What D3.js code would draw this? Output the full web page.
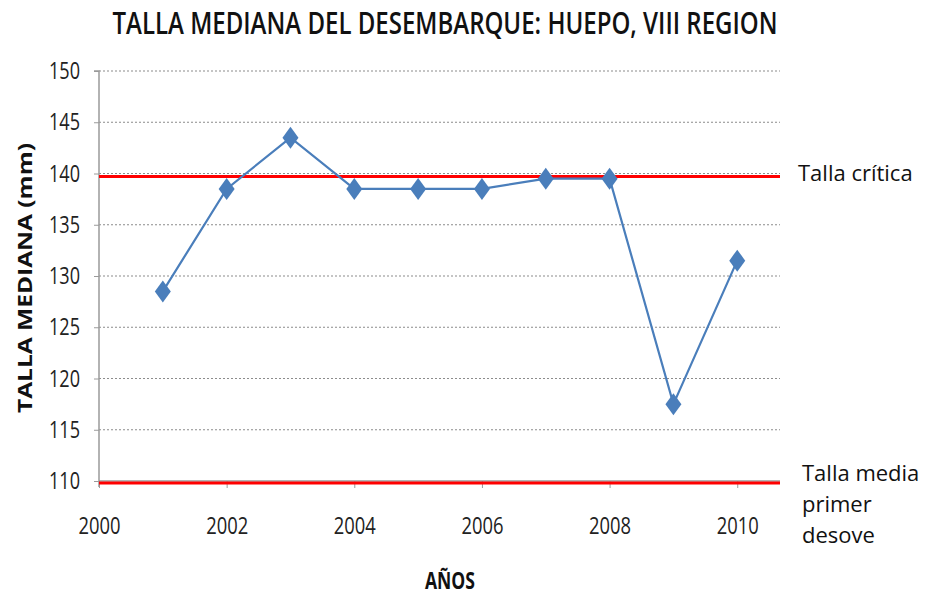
<!DOCTYPE html>
<html>
<head>
<meta charset="utf-8">
<script src="https://cdn.jsdelivr.net/npm/d3@7"></script>
<style>
  body { margin: 0; background: #fff; }
  svg { display: block; }
</style>
</head>
<body>
<svg width="925" height="596"></svg>
<script>
// data
var years = [2001, 2002, 2003, 2004, 2005, 2006, 2007, 2008, 2009, 2010];
var talla = [128.5, 138.5, 143.5, 138.5, 138.5, 138.5, 139.5, 139.5, 117.5, 131.5];
var yTicks = [110, 115, 120, 125, 130, 135, 140, 145, 150];
var xTicks = [2000, 2002, 2004, 2006, 2008, 2010];
var refValues = [139.7, 109.8];
var refLabels = [["Talla crítica"], ["Talla media", "primer", "desove"]];

var svg = d3.select('svg');
var pad = {l: 99, r: 780, t: 71, b: 481};

var x = d3.scaleLinear()
    .domain([2000, 2010.67])
    .range([pad.l, pad.r]);

var y = d3.scaleLinear()
    .domain([110, 150])
    .range([pad.b, pad.t]);

var font = '"Open Sans", sans-serif';

// gridlines
svg.append('g')
    .selectAll('line')
    .data(yTicks.filter(d => d > 110))
    .enter()
    .append('line')
    .attr('x1', pad.l)
    .attr('x2', pad.r)
    .attr('y1', d => y(d))
    .attr('y2', d => y(d))
    .attr('stroke', '#8c8c8c')
    .attr('stroke-width', 1.2)
    .attr('stroke-dasharray', '2,2');

// y axis
var yAxis = d3.axisLeft(y)
    .tickValues(yTicks)
    .tickSize(5)
    .tickPadding(14);

var gy = svg.append('g')
    .attr('transform', 'translate(' + pad.l + ',0)')
    .call(yAxis);
gy.select('.domain').attr('stroke', '#9a9a9a').attr('stroke-width', 1.5)
    .attr('d', 'M-5,' + pad.t + 'H0V' + (pad.b + 6));
gy.selectAll('.tick line').attr('stroke', '#9a9a9a');
gy.selectAll('.tick text')
    .attr('font-family', font)
    .attr('font-size', '24px')
    .attr('textLength', 31)
    .attr('lengthAdjust', 'spacingAndGlyphs')
    .attr('fill', '#222');

// x axis
var xAxis = d3.axisBottom(x)
    .tickValues(xTicks)
    .tickFormat(d3.format('d'))
    .tickSize(7)
    .tickPadding(29);

var gx = svg.append('g')
    .attr('transform', 'translate(0,' + pad.b + ')')
    .call(xAxis);
gx.select('.domain').attr('stroke', '#9a9a9a').attr('stroke-width', 1.5)
    .attr('d', 'M' + pad.l + ',0H' + pad.r);
gx.selectAll('.tick line').attr('stroke', '#9a9a9a');
gx.selectAll('.tick text')
    .attr('font-family', font)
    .attr('font-size', '24px')
    .attr('textLength', 42)
    .attr('lengthAdjust', 'spacingAndGlyphs')
    .attr('fill', '#222');

// reference lines
svg.append('g')
    .selectAll('line')
    .data(refValues)
    .enter()
    .append('line')
    .attr('x1', pad.l)
    .attr('x2', pad.r)
    .attr('y1', d => y(d))
    .attr('y2', d => y(d))
    .attr('stroke', '#ff0000')
    .attr('stroke-width', 3);

// series line
var line = d3.line()
    .x((d, i) => x(years[i]))
    .y(d => y(d));

svg.append('path')
    .datum(talla)
    .attr('d', line)
    .attr('fill', 'none')
    .attr('stroke', '#4a7ebb')
    .attr('stroke-width', 2.2);

// diamond markers
svg.selectAll('path.marker')
    .data(talla)
    .enter()
    .append('path')
    .attr('class', 'marker')
    .attr('d', 'M0,-11L8,0L0,11L-8,0Z')
    .attr('transform', (d, i) => 'translate(' + x(years[i]) + ',' + y(d) + ')')
    .attr('fill', '#4a7ebb');

// reference labels
refLabels.forEach(function(lines, k) {
    var lx = k == 0 ? 798 : 802;
    var t = svg.append('text')
        .attr('x', lx)
        .attr('y', k == 0 ? y(refValues[k]) + 4 : y(refValues[k]) - 2)
        .attr('font-family', font)
        .attr('font-size', '22px')
        .attr('fill', '#111');
    t.selectAll('tspan')
        .data(lines)
        .enter()
        .append('tspan')
        .attr('x', lx)
        .attr('dy', (d, i) => i == 0 ? 0 : 31)
        .text(d => d);
});

// title (narrow, tall letters: smaller font stretched vertically)
svg.append('text')
    .attr('transform', 'translate(445,34) scale(1,1.3)')
    .attr('text-anchor', 'middle')
    .attr('font-family', font)
    .attr('font-weight', 600)
    .attr('font-size', '24px')
    .attr('textLength', 665)
    .attr('lengthAdjust', 'spacingAndGlyphs')
    .attr('fill', '#111')
    .text('TALLA MEDIANA DEL DESEMBARQUE: HUEPO, VIII  REGION');

// axis labels
svg.append('text')
    .attr('transform', 'translate(32,278) rotate(-90)')
    .attr('text-anchor', 'middle')
    .attr('font-family', font)
    .attr('font-weight', 'bold')
    .attr('font-size', '20px')
    .attr('textLength', 270)
    .attr('lengthAdjust', 'spacingAndGlyphs')
    .attr('fill', '#111')
    .text('TALLA MEDIANA (mm)');

svg.append('text')
    .attr('x', 450)
    .attr('y', 589)
    .attr('text-anchor', 'middle')
    .attr('font-family', font)
    .attr('font-weight', 'bold')
    .attr('font-size', '23px')
    .attr('textLength', 50)
    .attr('lengthAdjust', 'spacingAndGlyphs')
    .attr('fill', '#111')
    .text('AÑOS');
</script>
</body>
</html>
